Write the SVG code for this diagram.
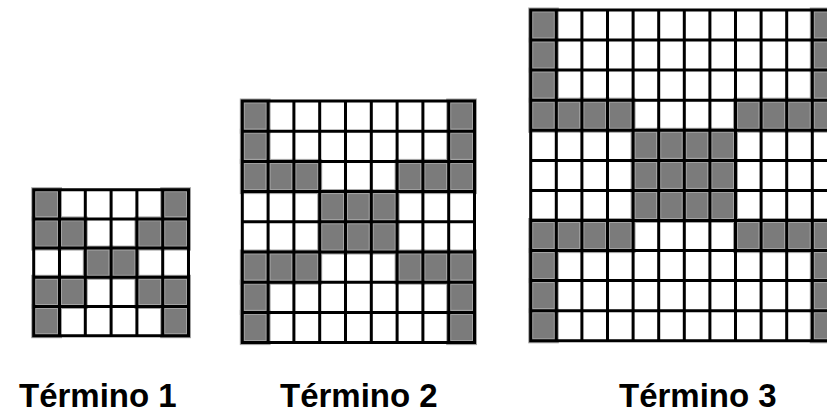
<svg xmlns="http://www.w3.org/2000/svg" width="827" height="413" viewBox="0 0 827 413">
<style>
.bg{fill:#ffffff}
.g{fill:#7b7b7b;stroke:#a3a3a3;stroke-width:5}
.ln{fill:none;stroke:#000000;stroke-width:3}
.lbl{font-family:"Liberation Sans",Arial,sans-serif;font-weight:bold;font-size:33px;fill:#000000}
</style>
<rect x="0" y="0" width="827" height="413" fill="#ffffff"/>

<g id="termino1">
<rect class="bg" x="33.7" y="189.7" width="154.8" height="146"/>
<g>
<rect class="g" x="33.7" y="189.7" width="25.8" height="29.2"/>
<rect class="g" x="162.7" y="189.7" width="25.8" height="29.2"/>
<rect class="g" x="33.7" y="218.9" width="25.8" height="29.2"/>
<rect class="g" x="59.5" y="218.9" width="25.8" height="29.2"/>
<rect class="g" x="136.9" y="218.9" width="25.8" height="29.2"/>
<rect class="g" x="162.7" y="218.9" width="25.8" height="29.2"/>
<rect class="g" x="85.3" y="248.1" width="25.8" height="29.2"/>
<rect class="g" x="111.1" y="248.1" width="25.8" height="29.2"/>
<rect class="g" x="33.7" y="277.3" width="25.8" height="29.2"/>
<rect class="g" x="59.5" y="277.3" width="25.8" height="29.2"/>
<rect class="g" x="136.9" y="277.3" width="25.8" height="29.2"/>
<rect class="g" x="162.7" y="277.3" width="25.8" height="29.2"/>
<rect class="g" x="33.7" y="306.5" width="25.8" height="29.2"/>
<rect class="g" x="162.7" y="306.5" width="25.8" height="29.2"/>
</g>
<path class="ln" d="M33.7 189.7V335.7M59.5 189.7V335.7M85.3 189.7V335.7M111.1 189.7V335.7M136.9 189.7V335.7M162.7 189.7V335.7M188.5 189.7V335.7M32.2 189.7H190M32.2 218.9H190M32.2 248.1H190M32.2 277.3H190M32.2 306.5H190M32.2 335.7H190"/>
<text class="lbl" x="19" y="407">Término 1</text>
</g>

<g id="termino2">
<rect class="bg" x="242.3" y="101" width="232.2" height="241.6"/>
<g>
<rect class="g" x="242.3" y="101" width="25.8" height="30.2"/>
<rect class="g" x="448.7" y="101" width="25.8" height="30.2"/>
<rect class="g" x="242.3" y="131.2" width="25.8" height="30.2"/>
<rect class="g" x="448.7" y="131.2" width="25.8" height="30.2"/>
<rect class="g" x="242.3" y="161.4" width="25.8" height="30.2"/>
<rect class="g" x="268.1" y="161.4" width="25.8" height="30.2"/>
<rect class="g" x="293.9" y="161.4" width="25.8" height="30.2"/>
<rect class="g" x="397.1" y="161.4" width="25.8" height="30.2"/>
<rect class="g" x="422.9" y="161.4" width="25.8" height="30.2"/>
<rect class="g" x="448.7" y="161.4" width="25.8" height="30.2"/>
<rect class="g" x="319.7" y="191.6" width="25.8" height="30.2"/>
<rect class="g" x="345.5" y="191.6" width="25.8" height="30.2"/>
<rect class="g" x="371.3" y="191.6" width="25.8" height="30.2"/>
<rect class="g" x="319.7" y="221.8" width="25.8" height="30.2"/>
<rect class="g" x="345.5" y="221.8" width="25.8" height="30.2"/>
<rect class="g" x="371.3" y="221.8" width="25.8" height="30.2"/>
<rect class="g" x="242.3" y="252" width="25.8" height="30.2"/>
<rect class="g" x="268.1" y="252" width="25.8" height="30.2"/>
<rect class="g" x="293.9" y="252" width="25.8" height="30.2"/>
<rect class="g" x="397.1" y="252" width="25.8" height="30.2"/>
<rect class="g" x="422.9" y="252" width="25.8" height="30.2"/>
<rect class="g" x="448.7" y="252" width="25.8" height="30.2"/>
<rect class="g" x="242.3" y="282.2" width="25.8" height="30.2"/>
<rect class="g" x="448.7" y="282.2" width="25.8" height="30.2"/>
<rect class="g" x="242.3" y="312.4" width="25.8" height="30.2"/>
<rect class="g" x="448.7" y="312.4" width="25.8" height="30.2"/>
</g>
<path class="ln" d="M242.3 101V342.6M268.1 101V342.6M293.9 101V342.6M319.7 101V342.6M345.5 101V342.6M371.3 101V342.6M397.1 101V342.6M422.9 101V342.6M448.7 101V342.6M474.5 101V342.6M240.8 101H476M240.8 131.2H476M240.8 161.4H476M240.8 191.6H476M240.8 221.8H476M240.8 252H476M240.8 282.2H476M240.8 312.4H476M240.8 342.6H476"/>
<text class="lbl" x="280" y="407">Término 2</text>
</g>

<g id="termino3">
<rect class="bg" x="530.7" y="10" width="307.2" height="330.8"/>
<g>
<rect class="g" x="530.7" y="10" width="25.6" height="30.1"/>
<rect class="g" x="812.3" y="10" width="25.6" height="30.1"/>
<rect class="g" x="530.7" y="40.1" width="25.6" height="30.1"/>
<rect class="g" x="812.3" y="40.1" width="25.6" height="30.1"/>
<rect class="g" x="530.7" y="70.1" width="25.6" height="30.1"/>
<rect class="g" x="812.3" y="70.1" width="25.6" height="30.1"/>
<rect class="g" x="530.7" y="100.2" width="25.6" height="30.1"/>
<rect class="g" x="556.3" y="100.2" width="25.6" height="30.1"/>
<rect class="g" x="581.9" y="100.2" width="25.6" height="30.1"/>
<rect class="g" x="607.5" y="100.2" width="25.6" height="30.1"/>
<rect class="g" x="735.5" y="100.2" width="25.6" height="30.1"/>
<rect class="g" x="761.1" y="100.2" width="25.6" height="30.1"/>
<rect class="g" x="786.7" y="100.2" width="25.6" height="30.1"/>
<rect class="g" x="812.3" y="100.2" width="25.6" height="30.1"/>
<rect class="g" x="633.1" y="130.3" width="25.6" height="30.1"/>
<rect class="g" x="658.7" y="130.3" width="25.6" height="30.1"/>
<rect class="g" x="684.3" y="130.3" width="25.6" height="30.1"/>
<rect class="g" x="709.9" y="130.3" width="25.6" height="30.1"/>
<rect class="g" x="633.1" y="160.4" width="25.6" height="30.1"/>
<rect class="g" x="658.7" y="160.4" width="25.6" height="30.1"/>
<rect class="g" x="684.3" y="160.4" width="25.6" height="30.1"/>
<rect class="g" x="709.9" y="160.4" width="25.6" height="30.1"/>
<rect class="g" x="633.1" y="190.4" width="25.6" height="30.1"/>
<rect class="g" x="658.7" y="190.4" width="25.6" height="30.1"/>
<rect class="g" x="684.3" y="190.4" width="25.6" height="30.1"/>
<rect class="g" x="709.9" y="190.4" width="25.6" height="30.1"/>
<rect class="g" x="530.7" y="220.5" width="25.6" height="30.1"/>
<rect class="g" x="556.3" y="220.5" width="25.6" height="30.1"/>
<rect class="g" x="581.9" y="220.5" width="25.6" height="30.1"/>
<rect class="g" x="607.5" y="220.5" width="25.6" height="30.1"/>
<rect class="g" x="735.5" y="220.5" width="25.6" height="30.1"/>
<rect class="g" x="761.1" y="220.5" width="25.6" height="30.1"/>
<rect class="g" x="786.7" y="220.5" width="25.6" height="30.1"/>
<rect class="g" x="812.3" y="220.5" width="25.6" height="30.1"/>
<rect class="g" x="530.7" y="250.6" width="25.6" height="30.1"/>
<rect class="g" x="812.3" y="250.6" width="25.6" height="30.1"/>
<rect class="g" x="530.7" y="280.6" width="25.6" height="30.1"/>
<rect class="g" x="812.3" y="280.6" width="25.6" height="30.1"/>
<rect class="g" x="530.7" y="310.7" width="25.6" height="30.1"/>
<rect class="g" x="812.3" y="310.7" width="25.6" height="30.1"/>
</g>
<path class="ln" d="M530.7 10V340.8M556.3 10V340.8M581.9 10V340.8M607.5 10V340.8M633.1 10V340.8M658.7 10V340.8M684.3 10V340.8M709.9 10V340.8M735.5 10V340.8M761.1 10V340.8M786.7 10V340.8M812.3 10V340.8M837.9 10V340.8M529.2 10H839.4M529.2 40.1H839.4M529.2 70.1H839.4M529.2 100.2H839.4M529.2 130.3H839.4M529.2 160.4H839.4M529.2 190.4H839.4M529.2 220.5H839.4M529.2 250.6H839.4M529.2 280.6H839.4M529.2 310.7H839.4M529.2 340.8H839.4"/>
<text class="lbl" x="619" y="407">Término 3</text>
</g>
</svg>
